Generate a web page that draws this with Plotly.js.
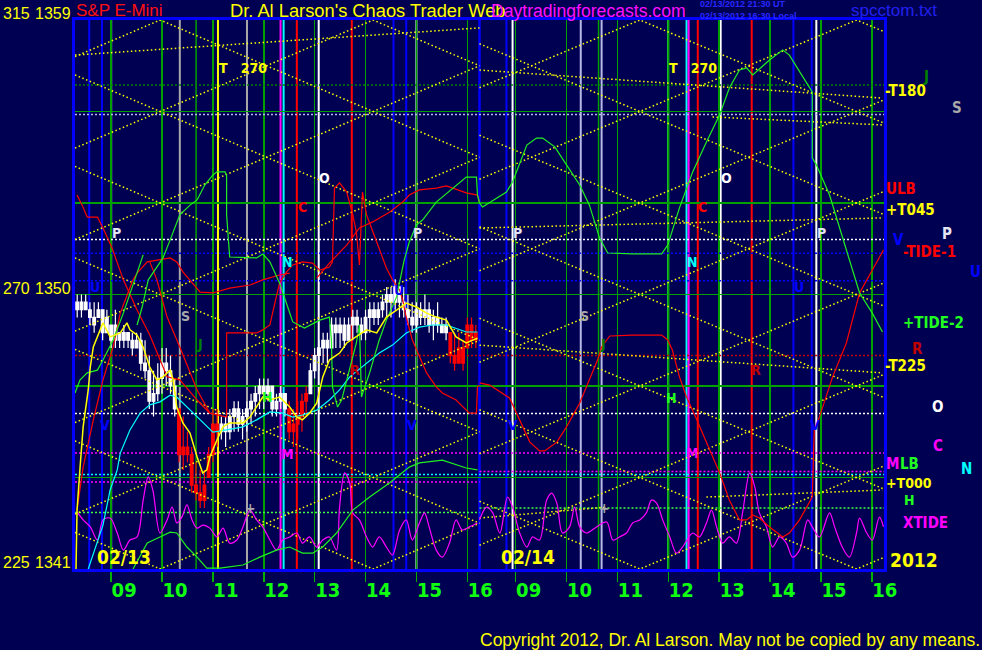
<!DOCTYPE html>
<html><head><meta charset="utf-8">
<script src="https://cdn.plot.ly/plotly-3.0.1.min.js"></script>
<style>html,body{margin:0;padding:0;background:#000052;}#chart{width:982px;height:650px;}</style>
</head><body><div id="chart"></div>
<script>
// ================= DATA =================
const DAY_LABELS = ['02/13', '02/14'];
const YEAR_LABEL = '2012';
const HOUR_TICKS = [9, 10, 11, 12, 13, 14, 15, 16];
const HOUR_TEXT = ['09', '10', '11', '12', '13', '14', '15', '16'];
const SESSION_START = 8.29, SESSION_END = 16.24;
const PRICE_MIN = 1341, PRICE_MAX = 1359;
const PRICE_LABELS = [1341, 1350, 1359];
const DEGREE_LABELS = ['225', '270', '315'];
const GRID_PRICES = [1344, 1347, 1350, 1353, 1356];

// 5-minute bars, 02/13, first bar 08:20
const BAR_START = 8 + 20 / 60, BAR_STEP = 5 / 60;
const OPEN = [1349.75,1349.50,1349.75,1349.50,1349.25,1349.25,1349.50,1348.75,1349.00,1348.50,1348.75,1348.50,1348.75,1348.50,1348.25,1348.50,1347.75,1347.50,1346.50,1346.75,1347.25,1347.75,1347.50,1347.00,1346.25,1344.75,1345.00,1344.75,1343.75,1343.50,1343.25,1344.00,1344.75,1345.75,1345.50,1345.75,1345.50,1346.00,1346.25,1345.75,1346.00,1346.25,1346.50,1346.75,1347.00,1346.75,1347.00,1346.25,1346.50,1346.75,1346.25,1345.50,1345.75,1346.00,1346.50,1346.75,1347.50,1348.00,1348.25,1348.50,1348.25,1349.00,1348.75,1349.00,1348.50,1349.00,1349.25,1349.00,1348.75,1349.25,1349.50,1349.25,1349.50,1349.75,1350.00,1349.75,1350.25,1349.75,1349.50,1349.25,1349.00,1349.50,1349.25,1349.50,1349.00,1349.25,1349.00,1348.75,1348.75,1348.00,1347.75,1348.25,1348.25,1349.00,1348.50];
const HIGH = [1350.00,1350.00,1350.00,1349.75,1349.75,1349.75,1349.50,1349.50,1349.00,1349.50,1348.75,1349.00,1348.75,1348.75,1348.75,1348.75,1348.50,1348.00,1347.50,1347.75,1348.25,1348.25,1348.00,1347.25,1346.25,1346.00,1345.50,1345.00,1344.50,1344.25,1344.25,1345.00,1346.25,1346.25,1346.00,1346.00,1346.25,1346.50,1346.50,1346.25,1346.50,1346.75,1347.00,1347.25,1347.25,1347.25,1347.00,1346.75,1347.00,1346.75,1346.50,1346.25,1346.50,1346.75,1347.00,1347.75,1348.25,1348.50,1348.75,1348.75,1349.25,1349.25,1349.25,1349.25,1349.25,1349.50,1349.50,1349.25,1349.50,1349.75,1349.75,1349.75,1350.00,1350.25,1350.25,1350.50,1350.25,1350.25,1350.00,1349.75,1349.75,1349.75,1350.00,1349.75,1349.50,1349.75,1349.25,1349.25,1348.75,1348.75,1348.75,1348.50,1349.25,1349.25,1349.00];
const LOW = [1349.25,1349.25,1349.50,1349.00,1348.75,1349.25,1348.50,1348.75,1348.25,1348.25,1348.25,1348.25,1348.25,1348.00,1348.25,1347.50,1347.25,1346.25,1346.00,1346.50,1346.75,1347.00,1346.75,1346.00,1344.50,1344.25,1344.50,1343.50,1343.25,1343.00,1343.00,1344.00,1344.50,1345.00,1345.25,1345.00,1345.25,1345.50,1345.50,1345.25,1345.50,1345.75,1346.00,1346.25,1346.25,1346.50,1346.00,1346.00,1346.25,1346.00,1345.25,1345.00,1345.25,1345.50,1346.00,1346.75,1347.25,1347.50,1347.75,1347.75,1348.25,1348.25,1348.25,1348.25,1348.50,1348.50,1348.75,1348.50,1348.50,1348.75,1349.00,1349.00,1349.25,1349.25,1349.25,1349.50,1349.25,1349.25,1349.00,1348.75,1348.75,1349.00,1349.00,1348.75,1348.50,1348.75,1348.75,1348.50,1347.75,1347.50,1347.75,1347.50,1348.25,1348.25,1348.25];
const CLOSE = [1349.50,1349.75,1349.50,1349.25,1349.00,1349.50,1348.75,1349.25,1348.50,1349.00,1348.50,1348.75,1348.50,1348.25,1348.50,1347.75,1347.50,1346.50,1346.75,1347.25,1347.75,1347.50,1347.00,1346.25,1344.75,1345.00,1344.75,1343.75,1343.50,1343.25,1343.75,1344.75,1345.75,1345.50,1345.75,1345.50,1346.00,1346.25,1345.75,1346.00,1346.25,1346.50,1346.75,1347.00,1346.75,1347.00,1346.25,1346.50,1346.75,1346.25,1345.50,1345.75,1346.00,1346.50,1346.75,1347.50,1348.00,1348.25,1348.50,1348.25,1349.00,1348.75,1349.00,1348.50,1349.00,1349.25,1349.00,1348.75,1349.25,1349.50,1349.25,1349.50,1349.75,1350.00,1349.75,1350.25,1349.75,1349.50,1349.25,1349.00,1349.50,1349.25,1349.50,1349.00,1349.25,1349.00,1348.75,1349.00,1348.00,1347.75,1348.25,1347.75,1349.00,1348.50,1348.75];
const RED_BAR_RANGES = [[24, 33], [50, 54], [88, 94]];

// Yellow diagonal time/price lattice: prices at session start and session end
const LAT1_DOWN_START = [1363.20,1360.20,1357.20,1354.20,1351.20,1348.20,1345.20,1342.20];
const LAT1_DOWN_END   = [1357.50,1354.50,1351.50,1348.50,1345.50,1342.50,1339.50,1336.50];
const LAT1_UP_START   = [1336.80,1339.80,1342.80,1345.80,1348.80,1351.80,1354.80,1357.80];
const LAT1_UP_END     = [1342.50,1345.50,1348.50,1351.50,1354.50,1357.50,1360.50,1363.50];
const LAT2_DOWN_START = [1364.22,1361.22,1358.22,1355.22,1352.22,1349.22,1346.22,1343.22];
const LAT2_DOWN_END   = [1358.62,1355.62,1352.62,1349.62,1346.62,1343.62,1340.62,1337.62];
const LAT2_UP_START   = [1335.78,1338.78,1341.78,1344.78,1347.78,1350.78,1353.78,1356.78];
const LAT2_UP_END     = [1341.38,1344.38,1347.38,1350.38,1353.38,1356.38,1359.38,1362.38];
// shallow yellow time lines: day, start hour, start price, end hour, end price
const SHALLOW_DAY = [1, 2, 2, 2, 2, 2, 2];
const SHALLOW_H0  = [8.29, 8.29, 12.87, 8.29, 8.29, 12.75, 8.29];
const SHALLOW_P0  = [1357.85, 1357.36, 1355.82, 1352.18, 1348.34, 1343.36, 1342.67];
const SHALLOW_H1  = [16.24, 16.21, 16.21, 16.21, 16.21, 16.21, 10.79];
const SHALLOW_P1  = [1358.74, 1356.44, 1355.56, 1352.51, 1347.43, 1343.59, 1343.03];

// Vertical time lines
const VL1_HOURS = [8.57, 8.82, 9.00, 10.35, 10.67, 11.10, 11.67, 12.33, 12.39, 12.65, 13.08, 13.73, 14.55, 14.80, 15.00];
const VL1_KINDS = ['blue','blue','white','gray','green','yellow','gray','magenta','cyan','red','white','red','blue','blue','palegreen'];
const VL2_HOURS = [8.82, 8.94, 10.28, 10.63, 10.69, 12.00, 12.36, 12.40, 12.58, 13.03, 13.64, 14.46, 14.82, 14.91];
const VL2_KINDS = ['blue','white','lavender','green','lavender','brightgreen','cyan','magenta','red','white','red','blue','blue','white'];

// Horizontal price lines
const HL_PRICES = [1356.87, 1355.90, 1351.80, 1351.35, 1350.45, 1348.00, 1346.10, 1344.80, 1344.10];
const HL_KINDS  = ['darkgreen','lavender','white','blue','blue','darkred','white','magenta','cyan'];
const HL1_PRICES = [1343.85, 1342.85], HL1_KINDS = ['magenta','lightgreen'];
const HL2_PRICES = [1344.20, 1343.00], HL2_KINDS = ['magenta','lightgreen'];

// Indicator curves (hours, prices)
const GREEN1_H = [8.29,8.39,8.53,8.73,8.84,9.04,9.24,9.37,9.51,9.63,null,9.51,9.61,9.73,10.02,10.16,10.35,10.55,10.69,10.84,11.00,11.08,11.24,11.27,11.27,11.33,11.86,11.98,12.12,12.31,12.57,12.80,13.10,13.29,13.33,13.35,13.45,13.53,13.69,13.82,13.88,13.92,14.08,14.27,14.41,14.61,14.76,14.86,15.00,15.12,15.39,15.71,15.98,16.18,16.20,16.24];
const GREEN1_P = [1346.77,1347.20,1347.43,1347.52,1347.85,1348.51,1349.39,1350.05,1350.70,1351.30,null,1349.00,1349.59,1350.48,1351.20,1351.79,1352.61,1352.93,1353.10,1353.59,1353.92,1354.02,1354.02,1353.89,1352.61,1351.23,1351.20,1351.33,1351.07,1350.38,1349.10,1348.90,1349.16,1349.26,1348.51,1346.97,1346.31,1346.54,1347.62,1348.41,1349.00,1346.64,1347.43,1348.51,1349.16,1349.92,1351.13,1351.72,1352.28,1352.44,1353.03,1353.49,1353.85,1353.85,1353.26,1353.00];
const GREEN2_H = [8.29,8.35,8.82,8.94,9.22,9.41,9.53,9.77,10.00,10.26,10.45,10.65,10.81,11.30,11.87,11.99,12.22,12.48,12.75,13.01,13.20,13.40,13.54,13.66,13.99,14.25,14.38,14.58,14.83,14.83,14.91,15.17,15.37,15.56,15.76,16.01,16.21];
const GREEN2_P = [1353.00,1352.87,1353.36,1353.69,1354.90,1355.13,1355.13,1354.84,1354.25,1353.59,1352.93,1351.85,1351.36,1351.33,1351.33,1351.62,1352.84,1354.02,1355.00,1355.89,1356.77,1357.36,1357.43,1357.20,1357.69,1358.02,1357.85,1357.30,1356.64,1354.48,1354.25,1353.26,1352.18,1351.07,1350.05,1349.39,1348.77];
const GREEN3_H = [9.43,9.71,9.96,10.16,10.29,10.49,10.69,10.88,11.14,11.59,11.92,12.25,12.51,12.76,12.96,13.16,13.43,13.75,14.08,14.47,14.86,15.06,15.51,15.98,16.20];
const GREEN3_P = [1341.00,1341.85,1342.05,1342.21,1342.18,1341.72,1341.39,1341.03,1341.03,1341.13,1341.39,1341.62,1341.72,1341.52,1341.52,1341.72,1342.18,1342.93,1343.36,1343.82,1344.34,1344.48,1344.57,1344.31,1344.25];

const RED1_H = [8.33,8.43,8.53,8.73,8.84,9.02,9.24,9.51,9.76,10.10,10.35,10.69,10.94,11.27,11.27,11.86,11.98,12.12,12.31,12.45,12.57,12.76,12.96,13.10,13.29,13.35,13.39,13.49,13.63,13.75,13.82,13.88,13.94,14.02,14.22,14.41,14.53,14.67,14.73,14.80,14.92,15.20,15.39,15.51,15.78,16.04,16.18,16.20,16.24];
const RED1_P = [1353.26,1352.93,1352.54,1352.54,1352.18,1351.52,1350.48,1349.49,1348.67,1347.30,1347.20,1346.54,1346.11,1345.98,1348.74,1348.74,1348.84,1349.00,1350.38,1350.74,1350.97,1351.07,1351.03,1350.80,1350.90,1351.07,1353.49,1353.66,1353.36,1352.61,1352.05,1350.97,1353.36,1352.61,1351.72,1350.87,1350.48,1350.15,1349.82,1349.26,1348.51,1347.43,1346.97,1346.77,1346.54,1346.11,1346.11,1346.97,1347.03];
const RED2_H = [8.33,8.45,8.65,8.84,9.04,9.18,9.33,9.43,9.51,9.71,10.16,10.29,10.41,10.75,11.00,11.33,11.73,11.98,12.31,12.51];
const RED2_P = [1342.93,1344.34,1345.89,1347.20,1348.28,1349.39,1350.05,1350.48,1350.70,1351.07,1351.20,1351.07,1350.74,1350.08,1350.05,1350.21,1350.31,1350.48,1350.64,1350.70];
const RED3_H = [9.76,9.90,10.10,10.35,10.69,10.94];
const RED3_P = [1351.07,1350.48,1349.26,1348.28,1346.87,1346.11];
const RED4_H = [13.04,13.29,13.63,13.88,14.14,14.47,14.73,14.86,15.06,15.39,15.59,15.98,16.20,16.24];
const RED4_P = [1350.54,1351.03,1351.62,1352.18,1352.38,1352.70,1353.03,1353.26,1353.43,1353.49,1353.56,1353.33,1353.26,1353.03];
const RED5_H = [8.29,8.49,8.88,9.02,9.28,9.47,9.57,9.81,10.00,10.26,10.45,10.61,10.69,10.85,11.30,11.87,11.99,12.08,12.22,12.36,12.56,12.75,13.01,13.20,13.40,13.54,13.66,13.79,13.99,14.25,14.38,14.58,14.83,14.87,14.97,15.23,15.50,15.76,16.01,16.23];
const RED5_P = [1347.10,1347.03,1346.61,1346.11,1345.16,1344.87,1344.87,1345.16,1345.66,1346.44,1347.20,1347.85,1348.28,1348.64,1348.67,1348.67,1348.51,1348.18,1347.30,1346.64,1345.89,1345.13,1344.15,1343.26,1342.61,1342.61,1342.77,1342.67,1342.38,1342.05,1342.18,1342.61,1343.36,1345.56,1345.98,1347.30,1348.41,1350.05,1350.80,1351.46];

const CYAN1_H = [8.55,8.73,8.84,8.98,9.12,9.18,9.37,9.57,9.76,9.96,10.16,10.29,10.49,10.75,11.00,11.27,11.59,11.86,12.12,12.37,12.57,12.76,13.04,13.29,13.49,13.69,14.02,14.27,14.53,14.80,15.06,15.31,15.59,15.78,15.98,16.20];
const CYAN1_P = [1341.00,1341.85,1342.44,1343.59,1344.25,1344.80,1345.56,1346.11,1346.38,1346.48,1346.70,1346.64,1346.31,1345.89,1345.49,1345.56,1345.66,1345.89,1346.15,1346.11,1345.98,1346.05,1346.21,1346.54,1346.87,1347.30,1347.75,1348.08,1348.34,1348.74,1348.93,1349.00,1349.00,1348.90,1348.77,1348.77];

const YELLOW1_H = [8.31,8.33,8.39,8.45,8.55,8.59,8.65,8.78,8.84,8.98,9.18,9.31,9.37,9.51,9.63,9.76,9.90,10.02,10.16,10.22,10.29,10.41,10.55,10.69,10.80,10.88,10.94,11.08,11.20,11.33,11.59,11.73,11.86,11.98,12.12,12.31,12.51,12.65,12.76,12.90,13.04,13.16,13.29,13.49,13.63,13.82,14.02,14.22,14.41,14.61,14.80,15.00,15.20,15.39,15.59,15.78,15.98,16.20];
const YELLOW1_P = [1341.00,1342.93,1344.34,1345.66,1346.87,1347.62,1348.28,1348.84,1349.07,1348.61,1348.74,1349.07,1348.84,1348.67,1348.28,1347.62,1347.20,1347.30,1347.52,1347.20,1346.31,1345.79,1345.46,1344.67,1344.15,1344.25,1344.67,1345.23,1345.66,1345.79,1345.79,1345.98,1346.31,1346.64,1346.54,1346.64,1346.31,1345.98,1345.89,1346.11,1346.44,1347.30,1347.85,1348.08,1348.41,1348.61,1348.84,1348.74,1349.26,1349.49,1349.72,1349.59,1349.39,1349.26,1349.16,1348.61,1348.41,1348.57];

const XTIDE1_H = [8.33,8.45,8.59,8.73,8.84,8.98,9.12,9.24,9.37,9.51,9.63,9.73,9.82,9.96,10.10,10.20,10.29,10.39,10.49,10.59,10.69,10.80,10.94,11.08,11.20,11.33,11.47,11.59,11.73,11.86,11.98,12.12,12.25,12.37,12.51,12.65,12.76,12.90,13.04,13.16,13.29,13.43,13.49,13.59,13.69,13.75,13.88,14.02,14.14,14.27,14.41,14.53,14.67,14.80,14.92,15.06,15.16,15.25,15.39,15.51,15.65,15.78,15.90,16.04,16.20];
const XTIDE1_P = [1342.87,1342.61,1342.38,1341.95,1342.61,1342.67,1342.18,1341.62,1341.95,1342.05,1343.26,1344.02,1343.59,1342.18,1342.61,1343.03,1342.51,1342.70,1343.10,1342.61,1342.34,1342.44,1342.34,1342.05,1342.34,1341.85,1341.95,1342.38,1342.93,1342.61,1342.38,1341.95,1341.62,1341.95,1342.05,1342.18,1341.85,1342.05,1341.72,1341.95,1342.05,1341.62,1343.03,1344.15,1343.82,1342.84,1342.61,1342.05,1341.72,1342.05,1341.72,1341.46,1342.28,1342.61,1341.95,1342.51,1342.84,1342.38,1341.62,1341.39,1341.85,1342.61,1342.28,1342.38,1342.51];
const XTIDE2_H = [8.29,8.43,8.55,8.69,8.84,8.94,9.08,9.22,9.33,9.47,9.61,9.71,9.81,9.92,10.06,10.16,10.26,10.39,10.59,10.79,10.91,11.04,11.18,11.30,11.44,11.57,11.67,11.77,11.89,12.03,12.16,12.28,12.48,12.61,12.75,12.85,12.95,13.07,13.20,13.34,13.46,13.60,13.70,13.79,13.93,14.05,14.19,14.32,14.44,14.58,14.74,14.83,14.97,15.17,15.27,15.42,15.56,15.70,15.76,15.90,16.01,16.15,16.23];
const XTIDE2_P = [1342.61,1343.03,1342.84,1342.18,1343.36,1343.03,1342.18,1341.72,1342.05,1341.95,1343.26,1343.49,1343.16,1342.18,1342.38,1343.03,1342.38,1342.18,1342.38,1342.54,1341.95,1342.05,1342.18,1342.51,1342.61,1342.84,1343.26,1343.16,1342.61,1342.05,1341.52,1341.72,1342.18,1342.05,1342.51,1342.93,1342.38,1341.85,1342.05,1341.85,1342.84,1344.15,1343.69,1342.84,1342.38,1341.72,1342.05,1341.85,1341.39,1341.62,1342.61,1342.38,1342.05,1342.84,1342.38,1341.72,1341.39,1342.18,1342.67,1342.18,1341.95,1342.70,1342.38];

// Planet glyph labels in the plot
const GLYPH_TEXT  = ['T\u00A0\u00A0\u00A0270','T\u00A0\u00A0\u00A0270','O','O','C','C','P','P','P','P','N','N','U','U','U','S','S','J','J','R','R','H','H','V','V','V','V','M','M','+','+'];
const GLYPH_DAY   = [1,2,1,2,1,2,1,1,2,2,1,2,1,1,2,1,2,1,2,1,2,1,2,1,1,2,2,1,2,1,2];
const GLYPH_HOUR  = [11.10,11.99,13.20,13.15,12.76,12.67,9.10,15.02,9.04,15.01,12.47,12.48,8.69,14.65,14.56,10.47,10.36,10.75,10.71,13.80,13.73,12.08,12.06,8.88,14.92,8.94,14.89,12.47,12.48,11.73,10.75];
const GLYPH_PRICE = [1357.43,1357.43,1353.82,1353.82,1352.87,1352.87,1352.02,1352.02,1352.02,1352.02,1351.07,1351.07,1350.25,1350.15,1350.25,1349.30,1349.30,1348.38,1348.38,1347.52,1347.52,1346.64,1346.61,1345.72,1345.72,1345.72,1345.72,1344.77,1344.80,1343.00,1343.00];
const GLYPH_KIND  = ['yellow','yellow','white','white','red','red','pale','pale','pale','pale','cyan','cyan','blue','blue','blue','gray','gray','darkgreen','darkgreen','darkred','darkred','brightgreen','brightgreen','blue','blue','blue','blue','magenta','magenta','gray','gray'];

// Legend labels at the right
const SIDE_TEXT = ['J','-T180','S','ULB','+T045','V','P','-TIDE-1','U','+TIDE-2','R','-T225','O','C','M','LB','N','+T000','H','XTIDE'];
const SIDE_KIND = ['darkgreen','yellow','gray','red','yellow','blue','pale','red','blue','brightgreen','darkred','yellow','white','magenta','magenta','brightgreen','cyan','yellow','brightgreen','magenta'];

// ================= STYLE / LAYOUT =================
const COL = {blue:'#0000FF', white:'#FFFFFF', palegreen:'#B0FFB0', gray:'#A8A8A8', lavender:'#B8B8E8',
  green:'#00A000', brightgreen:'#20FF20', lightgreen:'#40FF40', yellow:'#FFFF00', magenta:'#FF00FF', cyan:'#00FFFF',
  red:'#FF0000', darkred:'#C00000', darkgreen:'#008000', pale:'#E4E4F4'};
const BG = '#000052';
const NARROW = '"Liberation Sans Narrow","Arial Narrow","DejaVu Sans Condensed","Liberation Sans",sans-serif';
const ARIAL = '"Liberation Sans",Arial,sans-serif';
const L = 75, R = 98, T = 20, B = 81, W = 982, H = 650;
const PW = W - L - R, PH = H - T - B;
const DAY_SHIFT = SESSION_END - SESSION_START;
const X = (day, h) => (h === null ? null : (day === 1 ? h : h + DAY_SHIFT));
const px = x => (x - L) / PW;          // pixel -> paper x
const py = y => (H - B - y) / PH;      // pixel -> paper y

const traces = [];

// lattice + shallow lines
const lx = [], ly = [];
function addLattice(day, s, e) {
  for (let i = 0; i < s.length; i++) {
    lx.push(X(day, SESSION_START), X(day, SESSION_END), null);
    ly.push(s[i], e[i], null);
  }
}
addLattice(1, LAT1_DOWN_START, LAT1_DOWN_END);
addLattice(1, LAT1_UP_START, LAT1_UP_END);
addLattice(2, LAT2_DOWN_START, LAT2_DOWN_END);
addLattice(2, LAT2_UP_START, LAT2_UP_END);
SHALLOW_DAY.forEach((d, i) => {
  lx.push(X(d, SHALLOW_H0[i]), X(d, SHALLOW_H1[i]), null);
  ly.push(SHALLOW_P0[i], SHALLOW_P1[i], null);
});
traces.push({type:'scatter', mode:'lines', x:lx, y:ly, line:{color:'#FFFF00', width:1.5, dash:'1.5px,2.5px'}, hoverinfo:'skip', showlegend:false});

// candles
const isRed = i => RED_BAR_RANGES.some(r => i >= r[0] && i <= r[1]);
function candle(sel, color) {
  const idx = OPEN.map((_, i) => i).filter(sel);
  traces.push({type:'candlestick', x: idx.map(i => X(1, BAR_START + i * BAR_STEP)),
    open: idx.map(i => OPEN[i]), high: idx.map(i => HIGH[i]), low: idx.map(i => LOW[i]), close: idx.map(i => CLOSE[i]),
    increasing:{line:{color:color, width:1.2}, fillcolor:color}, decreasing:{line:{color:color, width:1.2}, fillcolor:color},
    whiskerwidth:0, hoverinfo:'skip', showlegend:false});
}
candle(i => !isRed(i), '#FFFFFF');
candle(i => isRed(i), '#FF0000');

function curve(day, hs, ps, color, width, shape) {
  traces.push({type:'scatter', mode:'lines', x: hs.map(h => X(day, h)), y: ps,
    line:{color:color, width:width, shape: shape || 'linear', smoothing: 0.9}, connectgaps:false, hoverinfo:'skip', showlegend:false});
}
curve(1, XTIDE1_H, XTIDE1_P, '#FF00FF', 1.2, 'spline');
curve(2, XTIDE2_H, XTIDE2_P, '#FF00FF', 1.2, 'spline');
curve(1, CYAN1_H, CYAN1_P, '#00FFFF', 1.2);
curve(1, RED1_H, RED1_P, '#FF0000', 1.2);
curve(1, RED2_H, RED2_P, '#FF0000', 1.2);
curve(1, RED3_H, RED3_P, '#FF0000', 1.2);
curve(1, RED4_H, RED4_P, '#FF0000', 1.2);
curve(2, RED5_H, RED5_P, '#FF0000', 1.2);
curve(1, GREEN1_H, GREEN1_P, '#20F020', 1.2);
curve(2, GREEN2_H, GREEN2_P, '#20F020', 1.2);
curve(1, GREEN3_H, GREEN3_P, '#20F020', 1.2);
curve(1, YELLOW1_H, YELLOW1_P, '#FFFF00', 1.5);

// shapes
const shapes = [];
function vline(day, h, kind) {
  shapes.push({type:'line', layer:'between', xref:'x', yref:'paper', x0:X(day,h), x1:X(day,h), y0:0, y1:1,
    line:{color:COL[kind], width: kind === 'green' ? 1.5 : 2}});
}
VL1_HOURS.forEach((h, i) => vline(1, h, VL1_KINDS[i]));
VL2_HOURS.forEach((h, i) => vline(2, h, VL2_KINDS[i]));
function hline(x0, x1, p, kind) {
  shapes.push({type:'line', layer:'between', xref:'x', yref:'y', x0:x0, x1:x1, y0:p, y1:p,
    line:{color:COL[kind], width:1.5, dash:'2px,2px'}});
}
HL_PRICES.forEach((p, i) => hline(X(1, SESSION_START), X(2, SESSION_END), p, HL_KINDS[i]));
HL1_PRICES.forEach((p, i) => hline(X(1, SESSION_START), X(1, SESSION_END), p, HL1_KINDS[i]));
HL2_PRICES.forEach((p, i) => hline(X(2, SESSION_START), X(2, SESSION_END), p, HL2_KINDS[i]));
shapes.push({type:'line', layer:'between', xref:'x', yref:'paper', x0:X(2, SESSION_START), x1:X(2, SESSION_START), y0:0, y1:1, line:{color:'#0000FF', width:2.5}});

// annotations
const ann = [];
function txt(text, x, y, color, size, family, xanchor, extra) {
  ann.push(Object.assign({text:text, x:x, y:y, xref:'paper', yref:'paper', xanchor:xanchor || 'left', yanchor:'middle',
    showarrow:false, font:{color:color, size:size, family:family}, borderpad:0}, extra || {}));
}
// header
txt('S&amp;P E-Mini', px(75), py(11), '#FF1010', 17, ARIAL);
txt("Dr. Al Larson's Chaos Trader Web", px(229), py(11), '#FFFF00', 18.3, ARIAL);
txt('Daytradingforecasts.com', px(490), py(11), '#FF10FF', 17.6, ARIAL);
txt('<b>02/13/2012 21:30 UT<br>02/13/2012 16:30 Local</b>', px(699), py(10), '#2828FF', 9, ARIAL, 'left', {align:'left'});
txt('spcctom.txt', px(850), py(11), '#2020EE', 17, ARIAL);
txt('Copyright 2012, Dr. Al Larson. May not be copied by any means.', px(981), py(640), '#FFFF00', 17.5, ARIAL, 'right');
// price labels on the left
PRICE_LABELS.forEach((p, i) => {
  ann.push({text:DEGREE_LABELS[i], x:px(2), y:p, xref:'paper', yref:'y', xanchor:'left', yanchor:'bottom', yshift:-3,
    showarrow:false, font:{color:'#FFFF00', size:16, family:ARIAL}, borderpad:0});
  ann.push({text:String(p), x:px(72), y:p, xref:'paper', yref:'y', xanchor:'right', yanchor:'bottom', yshift:-3,
    showarrow:false, font:{color:'#FFFF00', size:16, family:ARIAL}, borderpad:0});
});
// day labels
DAY_LABELS.forEach((d, i) => {
  ann.push({text:'<b>' + d + '</b>', x:X(i + 1, 8.70), y:PRICE_MIN, xref:'x', yref:'y', xanchor:'left', yanchor:'bottom', yshift:0,
    showarrow:false, font:{color:'#FFFF00', size:19, family:NARROW}, borderpad:0});
});
txt('<b>' + YEAR_LABEL + '</b>', px(889), py(560), '#FFFF00', 19, NARROW);
// glyphs
GLYPH_TEXT.forEach((t, i) => {
  ann.push({text:'<b>' + t + '</b>', x:X(GLYPH_DAY[i], GLYPH_HOUR[i]), y:GLYPH_PRICE[i], xref:'x', yref:'y',
    xanchor: i < 2 ? 'left' : 'center', yanchor:'middle', showarrow:false,
    font:{color:COL[GLYPH_KIND[i]], size:14, family:NARROW}, borderpad:0});
});
// side labels
const SIDE_POS = [[926,77,'c'],[884,91,'l'],[957,108,'c'],[885,189,'l'],[885,210,'l'],[898,240,'c'],[947,234,'c'],[902,252,'l'],[975,272,'c'],
  [902,323,'l'],[917,349,'c'],[884,366,'l'],[938,407,'c'],[938,446,'c'],[885,464,'l'],[899,464,'l'],[966,469,'c'],[885,483,'l'],[909,500,'c'],[902,523,'l']];
SIDE_TEXT.forEach((t, i) => {
  const p = SIDE_POS[i];
  txt('<b>' + t + '</b>', px(p[0]), py(p[1]), COL[SIDE_KIND[i]], 15, NARROW, p[2] === 'c' ? 'center' : 'left',
      i >= 17 && i <= 18 ? {font:{color:COL[SIDE_KIND[i]], size:14, family:NARROW}} : undefined);
});

const layout = {
  width:W, height:H, margin:{l:L, r:R, t:T, b:B, pad:0},
  paper_bgcolor:BG, plot_bgcolor:BG, showlegend:false, boxgap:0.1,
  xaxis:{range:[X(1, SESSION_START), X(2, SESSION_END)], type:'linear',
    tickvals: HOUR_TICKS.map(h => X(1, h)).concat(HOUR_TICKS.map(h => X(2, h))),
    ticktext: HOUR_TEXT.concat(HOUR_TEXT),
    showgrid:true, gridcolor:'#00A000', gridwidth:1.5, zeroline:false,
    ticks:'outside', ticklen:10, tickwidth:1.5, tickcolor:'#00B000',
    tickfont:{color:'#10FF10', size:20, family:NARROW, weight:'bold'}, ticklabelshift:13, ticklabelstandoff:-9,
    showline:true, mirror:true, linecolor:'#0000FF', linewidth:3, rangeslider:{visible:false}, fixedrange:true},
  yaxis:{range:[PRICE_MIN, PRICE_MAX], tickvals:GRID_PRICES, showticklabels:false, ticks:'',
    showgrid:true, gridcolor:'#00A000', gridwidth:1.5, zeroline:false,
    showline:true, mirror:true, linecolor:'#0000FF', linewidth:3, fixedrange:true},
  shapes:shapes, annotations:ann
};
Plotly.newPlot('chart', traces, layout, {staticPlot:true, displayModeBar:false});
</script></body></html>
